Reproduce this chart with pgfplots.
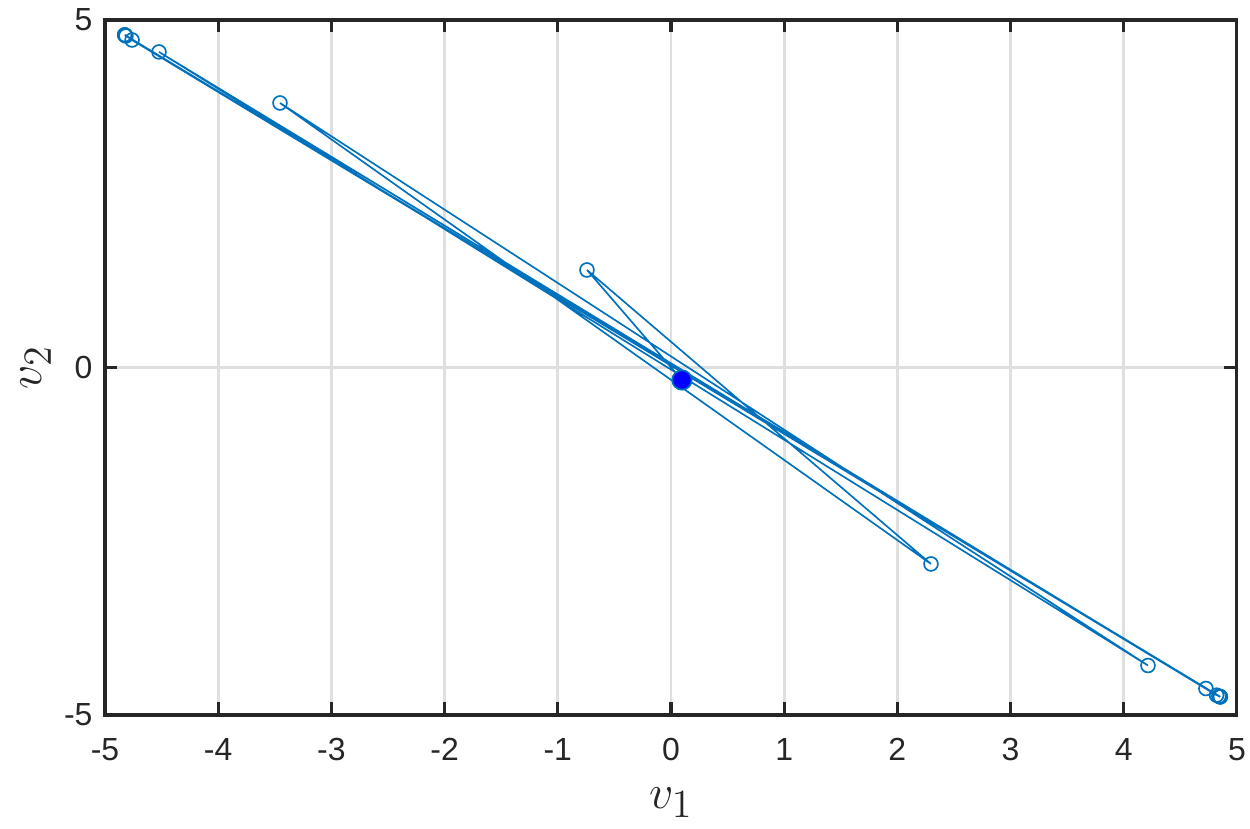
\documentclass[border=0pt]{standalone}
\usepackage{fontspec}
\setmainfont{Liberation Sans}
\usepackage{pgfplots}
\pgfplotsset{compat=1.18}
\definecolor{mblue}{rgb}{0,0.447,0.741}
\definecolor{axgray}{rgb}{0.15,0.15,0.15}
\definecolor{gridgray}{RGB}{223,223,223}

\begin{document}
\begin{tikzpicture}
\begin{axis}[
    scale only axis,
    width=407.5pt, height=250.2pt,
    xmin=-5, xmax=5, ymin=-5, ymax=5,
    xtick={-5,-4,-3,-2,-1,0,1,2,3,4,5},
    xticklabels={-5,-4,-3,-2,-1,0,1,2,3,4,5},
    ytick={-5,0,5},
    yticklabels={-5,0,5},
    tick align=inside,
    major tick length=4.5pt,
    xmajorgrids, ymajorgrids,
    grid style={gridgray, line width=1pt},
    axis line style={axgray, line width=1.1pt},
    tick style={axgray, line width=1.1pt},
    ticklabel style={font=\fontsize{11.5}{13}\selectfont, text=axgray},
    xticklabel style={yshift=-5pt},
    yticklabel style={xshift=-1pt},
    xlabel={$v_1$},
    ylabel={$v_2$},
    label style={font=\fontsize{19}{22}\selectfont, text=axgray},
    xlabel style={at={(axis description cs:0.5,-0.134)}, anchor=base},
    ylabel style={at={(axis description cs:-0.056,0.5)}, anchor=base, rotate=0},
]
\addplot[mblue, line width=0.6pt, mark=o, mark size=2.5pt,
         mark options={solid, line width=0.6pt}] coordinates {
    (0.097,-0.180)
    (-0.742,1.403)
    (2.297,-2.827)
    (-3.454,3.806)
    (4.214,-4.288)
    (-4.523,4.540)
    (4.726,-4.619)
    (-4.761,4.712)
    (4.820,-4.715)
    (-4.815,4.770)
    (4.840,-4.730)
    (-4.822,4.780)
    (4.850,-4.735)
    (-4.825,4.785)
    (4.852,-4.738)
    (-4.826,4.786)
    (4.853,-4.740)
};
\addplot[only marks, mark=*, mark size=3.5pt,
         mark options={fill=blue, draw=mblue, line width=0.6pt}] coordinates {
    (0.097,-0.180)
};
\coordinate (sw) at (rel axis cs:0,0);
\coordinate (ne) at (rel axis cs:1,1);
\end{axis}
\pgfresetboundingbox
\path ([shift={(-37.8pt,-40.7pt)}]sw) rectangle ([shift={(4.7pt,7.2pt)}]ne);
\end{tikzpicture}
\end{document}
